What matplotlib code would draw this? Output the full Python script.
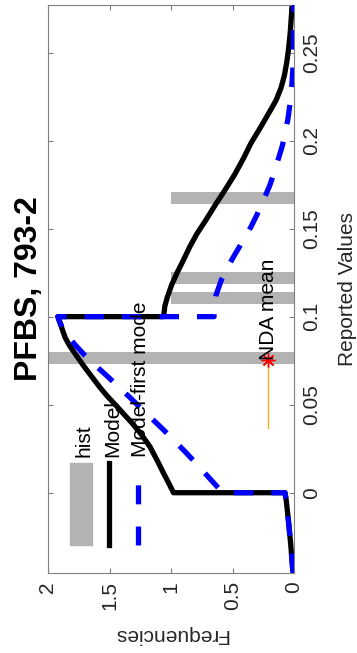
import matplotlib
matplotlib.use("Agg")
import matplotlib.pyplot as plt
from matplotlib.patches import Rectangle

plt.rcParams['font.family'] = ['Liberation Sans', 'DejaVu Sans']

# values: x = reported value, y = frequency
model_x = [-0.0456, -0.044, -0.029, -0.0155, -0.005, 0.0,
           0.0, 0.005, 0.011, 0.018, 0.026, 0.033, 0.039, 0.044, 0.049,
           0.055, 0.060, 0.066, 0.072, 0.078, 0.083, 0.088, 0.094, 0.097,
           0.100,
           0.100, 0.106, 0.111, 0.118, 0.125, 0.132, 0.140, 0.147, 0.155,
           0.164, 0.172, 0.181, 0.190, 0.1985, 0.206, 0.212, 0.218, 0.223,
           0.230, 0.237, 0.244, 0.251, 0.261, 0.272, 0.277]
model_y = [0.005, 0.01, 0.027, 0.046, 0.062, 0.073,
           0.98, 1.015, 1.06, 1.11, 1.17, 1.24, 1.31, 1.375, 1.44,
           1.52, 1.58, 1.645, 1.71, 1.77, 1.82, 1.86, 1.89, 1.905,
           1.92,
           1.06, 1.05, 1.03, 0.995, 0.95, 0.90, 0.845, 0.79, 0.715,
           0.635, 0.56, 0.48, 0.41, 0.35, 0.285, 0.235, 0.185, 0.145,
           0.105, 0.078, 0.06, 0.046, 0.031, 0.02, 0.016]

first_x = [-0.0456, -0.044, -0.029, -0.0155, -0.005, 0.0,
           0.0, 0.005, 0.010, 0.017, 0.024, 0.030, 0.036, 0.042, 0.048,
           0.0545, 0.060, 0.066, 0.072, 0.078, 0.084, 0.089, 0.094, 0.097,
           0.100,
           0.100, 0.106, 0.112, 0.121, 0.128, 0.136, 0.1436, 0.151, 0.158,
           0.166, 0.174, 0.181, 0.189, 0.197, 0.205, 0.212, 0.222, 0.232,
           0.240, 0.255, 0.277]
first_y = [0.005, 0.01, 0.027, 0.046, 0.062, 0.073,
           0.58, 0.645, 0.71, 0.80, 0.895, 0.98, 1.065, 1.155, 1.245,
           1.34, 1.425, 1.515, 1.61, 1.70, 1.78, 1.84, 1.885, 1.905,
           1.92,
           0.65, 0.648, 0.635, 0.59, 0.54, 0.475, 0.41, 0.35, 0.30,
           0.25, 0.20, 0.165, 0.13, 0.095, 0.07, 0.05, 0.03, 0.017,
           0.01, 0.004, 0.0]

hist_x = [0.0766, 0.1104, 0.1222, 0.1675]
hist_y = [2.0, 1.0, 1.0, 1.0]
hist_width = 0.0068

nda_x = [0.0366, 0.0754]
nda_y = [0.21, 0.21]
nda_mean = 0.0754

legend_labels = ['hist', 'Model', 'Model-first mode']

freq_ticks = [0, 0.5, 1, 1.5, 2]
freq_labels = ['0', '0.5', '1', '1.5', '2']
value_ticks = [0, 0.05, 0.1, 0.15, 0.2, 0.25]
value_labels = ['0', '0.05', '0.1', '0.15', '0.2', '0.25']


def main():

    fig = plt.figure(figsize=(3.57, 6.53), dpi=100)
    ax = fig.add_axes([48 / 357, 80 / 653, 246 / 357, 568 / 653])

    # chart is turned a quarter turn: values go up the page, frequency leftwards
    ax.barh(hist_x, hist_y, height=hist_width, color='#b3b3b3', zorder=1)
    ax.plot(model_y, model_x, color='k', lw=3.8, zorder=2)
    ax.plot(first_y, first_x, color='#0000ff', lw=3.8, dashes=(3.7, 3.4),
            dash_capstyle='butt', zorder=3)
    ax.plot(nda_y, nda_x, color='#edb120', lw=1, zorder=4)
    ax.plot(nda_y[1], nda_mean, marker=(8, 2, 0), ms=10, mew=1,
            color='#ff0000', zorder=5)
    ax.text(nda_y[1], nda_mean, 'NDA mean', rotation=90, ha='center',
            va='bottom', fontsize=15, zorder=6)

    # legend drawn by hand so it can be turned with the rest
    lo, hi = 0.0493, 0.1937
    ax.add_patch(Rectangle((0.0894, lo), 0.0895, hi - lo,
                           transform=ax.transAxes, color='#b3b3b3'))
    ax.plot([0.248, 0.248], [lo, hi], transform=ax.transAxes,
            color='k', lw=3.8)
    ax.plot([0.366, 0.366], [lo, hi], transform=ax.transAxes,
            color='#0000ff', lw=3.8, dashes=(3.6, 4.2), dash_capstyle='butt')
    for xpos, lab in zip([0.148, 0.263, 0.378], legend_labels):
        ax.text(xpos, 0.204, lab, transform=ax.transAxes, rotation=90,
                ha='center', va='bottom', fontsize=15)

    ax.set_xlim(2, 0)
    ax.set_ylim(-0.0456, 0.277)
    ax.set_xticks(freq_ticks, freq_labels)
    ax.set_yticks(value_ticks, value_labels)

    for s in ax.spines.values():
        s.set_color('#808080')
        s.set_linewidth(0.8)
    ax.tick_params(direction='in', length=3.6, width=0.8, color='#808080',
                   top=True, bottom=True, left=True, right=True,
                   labelleft=False, labelright=True, labelsize=15,
                   labelcolor='#262626', pad=6)
    ax.tick_params(axis='x', labelrotation=90)
    ax.tick_params(axis='y', labelrotation=90)
    for lbl in ax.get_yticklabels():
        lbl.set_va('center')

    ax.set_xlabel('Frequencies', rotation=180, fontsize=15, color='#262626')
    ax.xaxis.set_label_coords(0.5, -0.1074)
    ax.xaxis.label.set_va('center')

    ax.yaxis.set_label_position('right')
    ax.set_ylabel('Reported Values', rotation=90, fontsize=15,
                  color='#262626')
    ax.yaxis.set_label_coords((347.7 - 48) / 246, 0.5)
    ax.yaxis.label.set_va('center')
    ax.yaxis.label.set_ha('center')

    ax.set_title('PFBS, 793-2', rotation=90, x=(29 - 48) / 246, y=0.5,
                 pad=0, ha='center', va='center', fontsize=23,
                 fontweight='bold')

    fig.savefig('out.png', dpi=100)


if __name__ == "__main__":

    main()
